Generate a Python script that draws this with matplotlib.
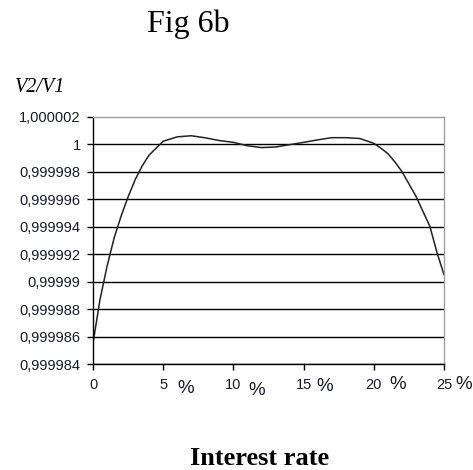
import matplotlib
matplotlib.use('Agg')
import numpy as np
import matplotlib.pyplot as plt

# interest rate in %, and ratio V2/V1
rate = [0, 0.5, 1, 1.5, 2, 2.5, 3, 3.5, 4, 4.5, 5, 6, 7, 8, 9, 10, 11, 12, 13,
        14, 15, 16, 17, 18, 19, 20, 20.5, 21, 21.5, 22, 22.5, 23, 23.5, 24, 24.5, 25]
ratio = [0.9999855, 0.9999887, 0.9999911, 0.99999315, 0.99999475, 0.99999615,
         0.9999974, 0.9999984, 0.9999992, 0.9999997, 1.0000002, 1.00000052,
         1.0000006, 1.00000045, 1.00000025, 1.00000012, 0.99999987, 0.99999974,
         0.99999978, 0.99999995, 1.00000012, 1.0000003, 1.00000046, 1.00000046,
         1.0000004, 1.00000005, 0.9999997, 0.9999993, 0.9999987, 0.999998,
         0.9999971, 0.9999962, 0.9999951, 0.999994, 0.9999921, 0.9999905]

yticks = [0.999984, 0.999986, 0.999988, 0.99999, 0.999992, 0.999994,
          0.999996, 0.999998, 1.0, 1.000002]
ytick_labels = ['0,999984', '0,999986', '0,999988', '0,99999', '0,999992',
                '0,999994', '0,999996', '0,999998', '1', '1,000002']
xticks = [0, 5, 10, 15, 20, 25]
xtick_labels = ['0', '5', '10', '15', '20', '25']
# offsets (points) of the separate "%" signs from each tick
pct_dx = [None, 16.5, 16.5, 15.5, 17.5, 14]
pct_dy = [None, -17.5, -19, -16, -14.5, -15]

W, H = 473, 470
fig = plt.figure(figsize=(W / 100, H / 100), dpi=100)
ax = fig.add_axes([93 / W, 1 - 364 / H, 351 / W, 247.5 / H])

ax.plot(rate, ratio, color='#222222', lw=1.1)

ax.set_xlim(0, 25)
ax.set_ylim(yticks[0], yticks[-1])
ax.set_yticks(yticks)
ax.set_yticklabels(ytick_labels, fontsize=10.5, family='Liberation Sans', color='#1a1a2a')
ax.set_xticks(xticks)
ax.set_xticklabels(xtick_labels, fontsize=10.5, family='Liberation Sans', color='#1a1a2a')
ax.tick_params(axis='both', length=4, width=1, color='black')
ax.tick_params(axis='y', pad=5)
ax.tick_params(axis='x', pad=6)

ax.yaxis.grid(True, color='black', lw=1.0)
ax.get_ygridlines()[-1].set_visible(False)
ax.set_axisbelow(True)

for side in ['left', 'bottom']:
    ax.spines[side].set_color('black')
    ax.spines[side].set_linewidth(1.0)
for side in ['top', 'right']:
    ax.spines[side].set_color('#a0a0a0')
    ax.spines[side].set_linewidth(1.0)

for i in range(1, len(xticks)):
    ax.annotate('%', xy=(xticks[i], yticks[0]), xycoords='data',
                xytext=(pct_dx[i], pct_dy[i]), textcoords='offset points',
                ha='center', va='center', fontsize=13.5, family='Liberation Sans',
                color='#1a1a2a', annotation_clip=False)

fig.text(188 / W, 1 - 32 / H, 'Fig 6b', ha='center', va='baseline',
         fontsize=23, family='Liberation Serif')
fig.text(15 / W, 1 - 91.5 / H, 'V2/V1', ha='left', va='baseline',
         fontsize=14.5, family='Liberation Serif', style='italic')
fig.text(260 / W, 1 - 465 / H, 'Interest rate', ha='center', va='baseline',
         fontsize=19, family='Liberation Serif', weight='bold')

fig.savefig('out.png', dpi=100)
